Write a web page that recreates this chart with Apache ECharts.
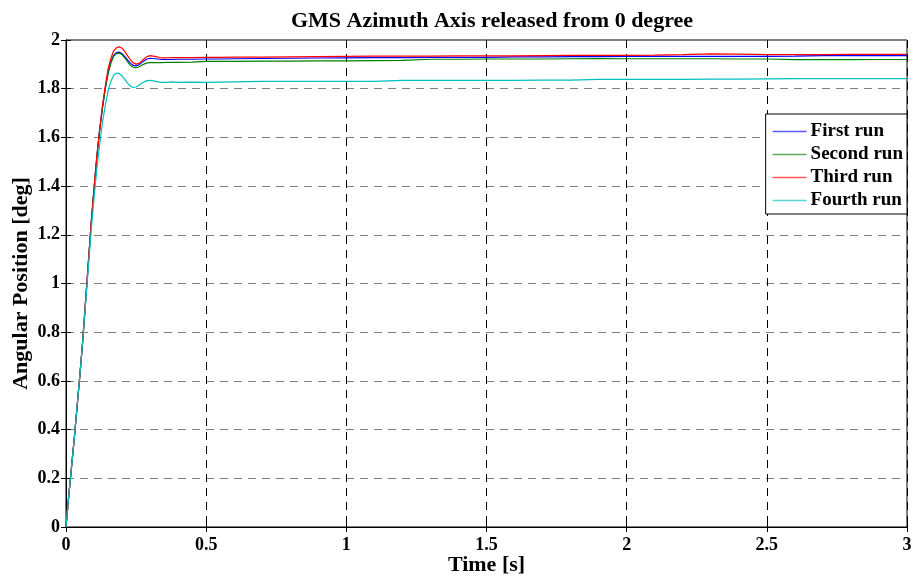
<!DOCTYPE html>
<html>
<head>
<meta charset="utf-8">
<script src="https://cdn.jsdelivr.net/npm/echarts@6/dist/echarts.min.js"></script>
<style>html,body{margin:0;padding:0;background:#fff}#c{width:919px;height:580px}</style>
</head>
<body>
<div id="c"></div>
<script>
// Time samples [s]
const time = [0,0.01,0.02,0.03,0.04,0.05,0.06,0.07,0.08,0.09,0.10,0.11,0.12,0.13,0.14,0.15,0.16,0.17,0.18,0.19,0.20,0.21,0.22,0.23,0.24,0.25,0.26,0.27,0.28,0.29,0.30,0.32,0.34,0.36,0.38,0.40,0.45,0.5,0.55,0.6,0.7,0.8,0.9,1.0,1.1,1.2,1.3,1.4,1.5,1.6,1.7,1.8,1.9,2.0,2.1,2.2,2.3,2.4,2.5,2.6,2.7,2.8,2.9,3.0];
// Angular position [deg] per run
const firstRun = [0,0.13,0.25,0.37,0.50,0.63,0.77,0.93,1.09,1.25,1.39,1.52,1.63,1.72,1.80,1.865,1.91,1.937,1.948,1.950,1.944,1.932,1.917,1.904,1.896,1.894,1.898,1.907,1.916,1.922,1.925,1.923,1.920,1.920,1.920,1.921,1.921,1.922,1.922,1.923,1.924,1.925,1.926,1.927,1.928,1.928,1.929,1.929,1.929,1.931,1.931,1.932,1.932,1.933,1.933,1.933,1.933,1.933,1.933,1.934,1.936,1.936,1.936,1.936];
const secondRun = [0,0.13,0.25,0.37,0.50,0.63,0.77,0.93,1.09,1.25,1.39,1.52,1.63,1.72,1.80,1.862,1.905,1.933,1.944,1.946,1.940,1.926,1.910,1.896,1.888,1.886,1.889,1.896,1.902,1.906,1.907,1.907,1.907,1.908,1.908,1.908,1.909,1.912,1.912,1.912,1.913,1.913,1.914,1.914,1.915,1.916,1.921,1.921,1.922,1.922,1.922,1.923,1.924,1.923,1.923,1.923,1.923,1.922,1.922,1.919,1.920,1.919,1.920,1.920];
const thirdRun = [0,0.13,0.25,0.37,0.50,0.63,0.77,0.93,1.09,1.25,1.39,1.52,1.63,1.73,1.81,1.88,1.925,1.955,1.968,1.972,1.966,1.952,1.935,1.918,1.906,1.901,1.904,1.913,1.924,1.932,1.936,1.932,1.927,1.927,1.928,1.928,1.928,1.929,1.929,1.930,1.930,1.931,1.932,1.933,1.934,1.934,1.934,1.935,1.935,1.935,1.936,1.937,1.937,1.937,1.938,1.940,1.943,1.942,1.940,1.940,1.940,1.941,1.941,1.941];
const fourthRun = [0,0.13,0.25,0.37,0.50,0.63,0.77,0.92,1.07,1.22,1.35,1.47,1.57,1.66,1.73,1.79,1.83,1.855,1.864,1.862,1.852,1.838,1.822,1.810,1.805,1.807,1.814,1.822,1.829,1.833,1.834,1.830,1.826,1.826,1.828,1.826,1.827,1.826,1.827,1.828,1.830,1.830,1.830,1.830,1.830,1.834,1.834,1.834,1.834,1.834,1.835,1.835,1.838,1.838,1.838,1.838,1.839,1.839,1.840,1.841,1.841,1.841,1.841,1.841];

const seriesNames = ['First run','Second run','Third run','Fourth run'];
const seriesColors = ['#0000ff','#008000','#ff0000','#00bfbf'];
const seriesData = [firstRun, secondRun, thirdRun, fourthRun];

const font = '"Liberation Serif", "Times New Roman", serif';
const chart = echarts.init(document.getElementById('c'), null, {renderer:'canvas'});

const tickStyle = {show:true, inside:true, length:5, lineStyle:{color:'#000', width:1}};
const option = {
  animation:false,
  backgroundColor:'#fff',
  title:{
    text:'GMS Azimuth Axis released from 0 degree',
    left:487, top:5, textAlign:'center',
    textStyle:{fontFamily:font, fontWeight:'bold', fontSize:22, color:'#000'}
  },
  legend:{
    orient:'vertical', right:12, top:114,
    backgroundColor:'#fff', borderColor:'#000', borderWidth:1,
    padding:[8,4,4,7], itemGap:4, itemWidth:34, itemHeight:14,
    textStyle:{fontFamily:font, fontWeight:'bold', fontSize:19, color:'#000', padding:[0,0,0,-1]},
    data:seriesNames.map(function(n,i){
      return {name:n, icon:'path://M0,0 L34,0 L34,1.4 L0,1.4 Z',
        itemStyle:{color:seriesColors[i], opacity:0.65, borderWidth:0, borderColor:seriesColors[i]}};
    })
  },
  grid:{left:66, right:12, top:40, bottom:53, show:true, borderColor:'#000', borderWidth:1, backgroundColor:'transparent', containLabel:false, outerBoundsMode:'none'},
  xAxis:[{
    type:'value', min:0, max:3, interval:0.5,
    name:'Time [s]', nameLocation:'middle', nameGap:27, nameMoveOverlap:false,
    nameTextStyle:{fontFamily:font, fontWeight:'bold', fontSize:22, color:'#000'},
    axisLine:{show:true, lineStyle:{color:'#000'}},
    axisTick:tickStyle,
    axisLabel:{fontFamily:font, fontWeight:'bold', fontSize:18, color:'#000', margin:9},
    splitLine:{show:true, lineStyle:{color:'#000', type:[8,6], width:1}}
  },{
    type:'value', min:0, max:3, interval:0.5, position:'top',
    axisLine:{show:true, lineStyle:{color:'#000'}},
    axisTick:tickStyle, axisLabel:{show:false}, splitLine:{show:false}
  }],
  yAxis:[{
    type:'value', min:0, max:2, interval:0.2,
    name:'Angular Position [deg]', nameLocation:'middle', nameGap:34, nameRotate:90, nameMoveOverlap:false,
    nameTextStyle:{fontFamily:font, fontWeight:'bold', fontSize:22, color:'#000'},
    axisLine:{show:true, lineStyle:{color:'#000'}},
    axisTick:tickStyle,
    axisLabel:{fontFamily:font, fontWeight:'bold', fontSize:18, color:'#000', margin:6,
      formatter:function(v){return String(Math.round(v*10)/10);}},
    splitLine:{show:true, lineStyle:{color:'#808080', type:[8,6], width:1}}
  },{
    type:'value', min:0, max:2, interval:0.2, position:'right',
    axisLine:{show:true, lineStyle:{color:'#000'}},
    axisTick:tickStyle, axisLabel:{show:false}, splitLine:{show:false}
  }],
  series: seriesNames.map(function(n,i){
    return {
      name:n, type:'line', symbol:'none', showSymbol:false,
      xAxisIndex:0, yAxisIndex:0,
      lineStyle:{color:seriesColors[i], width:1.2},
      itemStyle:{color:seriesColors[i]},
      data: time.map(function(t,k){return [t, seriesData[i][k]];})
    };
  })
};
chart.setOption(option);
</script>
</body>
</html>
